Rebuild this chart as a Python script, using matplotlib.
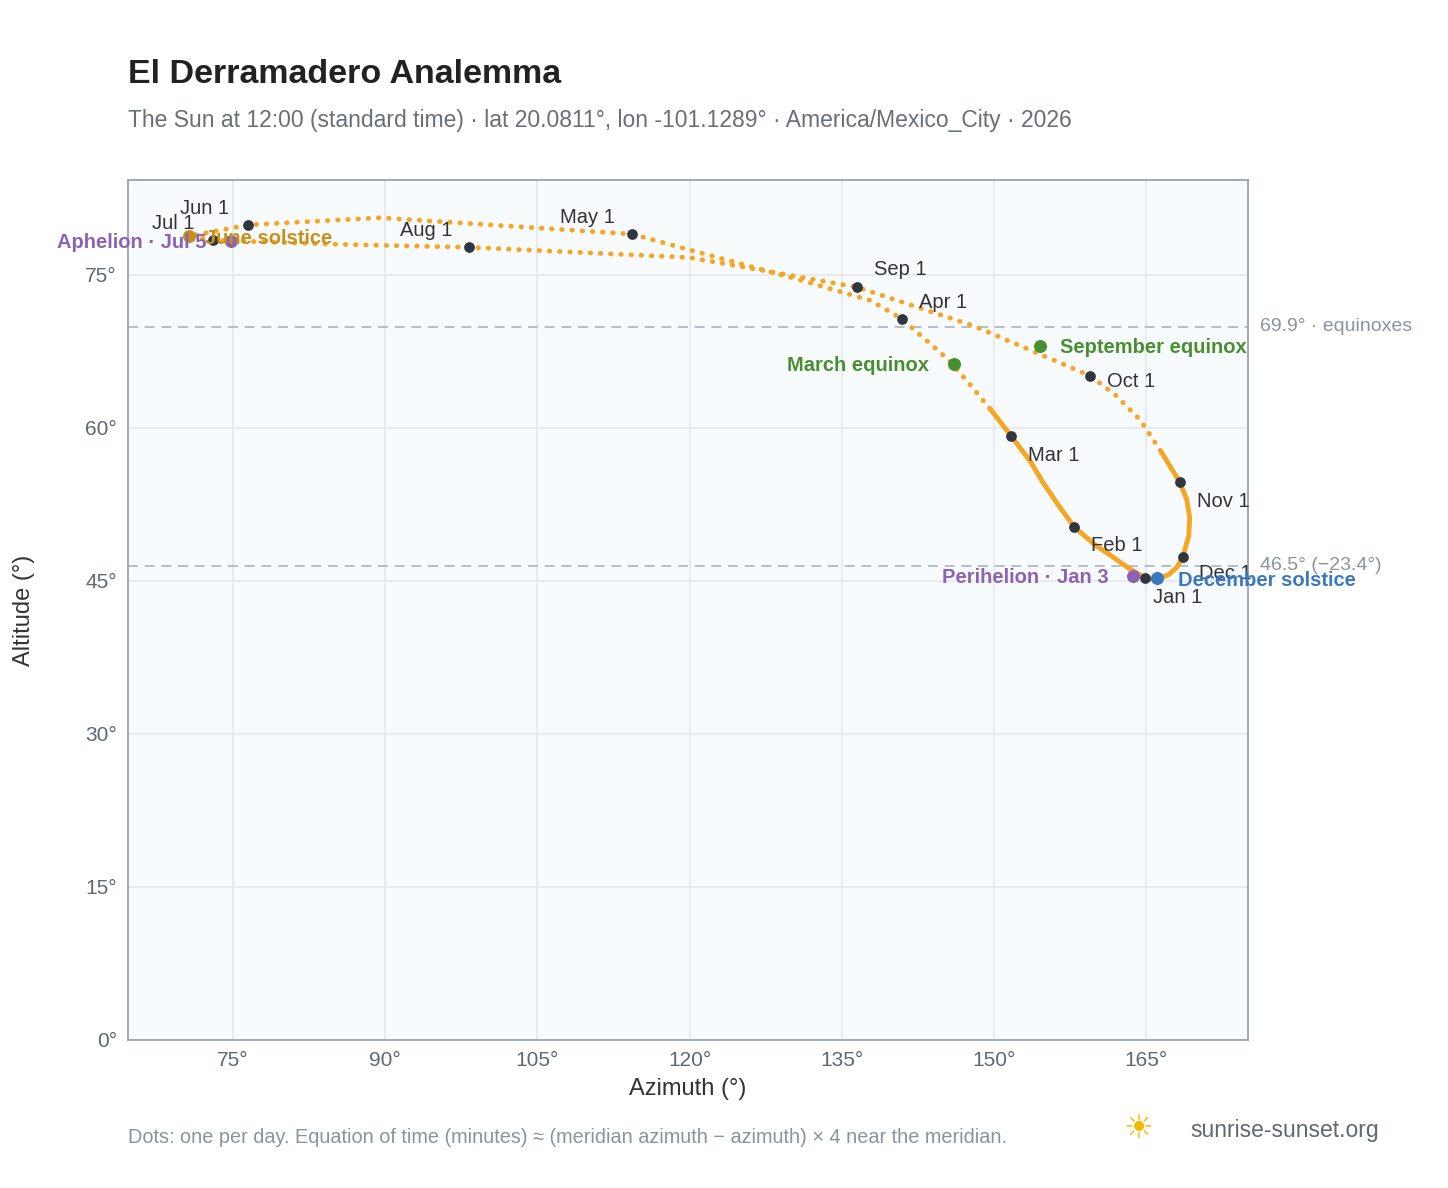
import matplotlib.pyplot as plt

plt.rcParams['font.family'] = ['Liberation Sans', 'DejaVu Sans']

# Sun position at 12:00 (azimuth, altitude)
dates = ["Jan 1", "Jan 8", "Jan 15", "Jan 22", "Feb 1", "Feb 8", "Feb 15", "Feb 22",
         "Mar 1", "Mar 8", "Mar 15", "Mar 22", "Apr 1", "Apr 8", "Apr 15",
         "May 1", "May 15", "Jun 1", "Jun 21", "Jul 1", "Jul 15", "Aug 1", "Aug 15",
         "Sep 1", "Sep 15", "Oct 1", "Oct 8", "Oct 15", "Oct 22", "Nov 1", "Nov 8",
         "Nov 15", "Nov 22", "Dec 1", "Dec 8", "Dec 15", "Dec 22", "Dec 31"]
azimuth = [164.9, 163.2, 161.5, 160.0, 157.9, 156.3, 154.8, 153.6,
           151.7, 149.6, 147.6, 145.5, 140.9, 137.8, 130.9,
           114.3, 89.5, 76.5, 70.7, 73.0, 85.0, 98.3, 120.0,
           136.5, 148.0, 159.5, 162.0, 164.4, 166.4, 168.3, 169.0,
           169.3, 169.2, 168.6, 168.0, 167.2, 166.2, 165.1]
altitude = [45.3, 46.3, 47.5, 48.5, 50.3, 52.5, 54.7, 56.7,
            59.2, 61.9, 64.3, 66.7, 70.7, 72.5, 74.5,
            79.0, 80.6, 79.9, 78.8, 78.4, 78.0, 77.7, 76.7,
            73.8, 70.0, 65.1, 63.2, 60.8, 57.8, 54.7, 53.0,
            51.2, 49.4, 47.3, 46.3, 45.6, 45.2, 45.2]

month_labels = ["Jan 1", "Feb 1", "Mar 1", "Apr 1", "May 1", "Jun 1",
                "Jul 1", "Aug 1", "Sep 1", "Oct 1", "Nov 1", "Dec 1"]
label_offsets = [(8, -25), (17, -24), (17, -25), (17, 11), (-72, 11), (-68, 11),
                 (-61, 11), (-69, 11), (17, 12), (17, -11), (17, -25), (16, -22)]

# special events: name, az, alt, colour, text offset (px)
events = [
    ("March equinox", 146.1, 66.3, "#4a8f2f", (-167, -7)),
    ("September equinox", 154.5, 68.0, "#4a8f2f", (20, -7)),
    ("June solstice", 70.7, 78.8, "#c8901a", (16, -8)),
    ("December solstice", 166.1, 45.3, "#3b78c2", (21, -8)),
    ("Aphelion · Jul 5", 74.8, 78.3, "#8c62b5", (-174, -7)),
    ("Perihelion · Jan 3", 163.7, 45.5, "#8c62b5", (-191, -7)),
]

equinox_alt = 69.9
solstice_alt = 46.5

orange = "#f5a623"
fig = plt.figure(figsize=(14.48, 11.88), dpi=100)
ax = fig.add_axes([0.0884, 0.1246, 0.7736, 0.7239])
ax.set_facecolor("#f8fbfe")

# dense part of the loop looks solid, the rest dotted
i_oct22 = dates.index("Oct 22")
i_mar8 = dates.index("Mar 8")
solid = list(range(i_oct22, len(dates))) + list(range(0, i_mar8 + 1))
ax.plot([azimuth[i] for i in solid], [altitude[i] for i in solid],
        color=orange, lw=3.5, solid_capstyle="round", solid_joinstyle="round", zorder=2)
ax.plot(azimuth[i_mar8:i_oct22 + 1], altitude[i_mar8:i_oct22 + 1], color=orange, lw=3.5,
        linestyle=(0, (0.1, 2.0)), dash_capstyle="round", zorder=2)

for lab, off in zip(month_labels, label_offsets):
    i = dates.index(lab)
    ax.scatter(azimuth[i], altitude[i], s=45, color="#2f3640", zorder=4)
    ax.annotate(lab, (azimuth[i], altitude[i]), xytext=off, textcoords="offset pixels",
                fontsize=14.5, color="#333333", va="baseline", zorder=5)

for name, az, alt, col, off in events:
    ax.scatter(az, alt, s=70, color=col, zorder=5)
    ax.annotate(name, (az, alt), xytext=off, textcoords="offset pixels", va="baseline",
                fontsize=14.5, color=col, fontweight="bold", zorder=6)

for y, txt in [(equinox_alt, "69.9° · equinoxes"), (solstice_alt, "46.5° (−23.4°)")]:
    ax.axhline(y, color="#aab4c3", lw=1.2, ls=(0, (6, 4)), zorder=1)
    ax.text(175.06 + 1.2, y, txt, fontsize=14, color="#8a939e", va="center", clip_on=False)

ax.set_xlim(64.65, 175.06)
ax.set_ylim(0, 84.3)
ax.set_xticks(range(75, 166, 15))
ax.set_xticklabels([f"{v}°" for v in range(75, 166, 15)])
ax.set_yticks(range(0, 76, 15))
ax.set_yticklabels([f"{v}°" for v in range(0, 76, 15)])
ax.tick_params(labelsize=15, colors="#5f6873", length=0, pad=8)
ax.grid(True, color="#e3e8ee", lw=1.2)
ax.set_axisbelow(True)
for s in ax.spines.values():
    s.set_color("#99a3b0")
    s.set_linewidth(1.3)
ax.set_xlabel("Azimuth (°)", fontsize=17, color="#333333", labelpad=6)
ax.set_ylabel("Altitude (°)", fontsize=17, color="#333333", labelpad=36)

fig.text(0.0884, 0.930, "El Derramadero Analemma", fontsize=24.5, fontweight="bold", color="#222222")
fig.text(0.0884, 0.893, "The Sun at 12:00 (standard time) · lat 20.0811°, lon -101.1289° · America/Mexico_City · 2026",
         fontsize=16.5, color="#666f7a")
fig.text(0.0884, 0.038, "Dots: one per day. Equation of time (minutes) ≈ (meridian azimuth − azimuth) × 4 near the meridian.",
         fontsize=14.3, color="#8a939e")
fig.text(0.822, 0.043, "sunrise-sunset.org", fontsize=16.5, color="#5f6873")
fig.text(0.776, 0.041, "☀", fontsize=24, color="#f5b800", family="DejaVu Sans")

fig.savefig("out.png", dpi=100)
